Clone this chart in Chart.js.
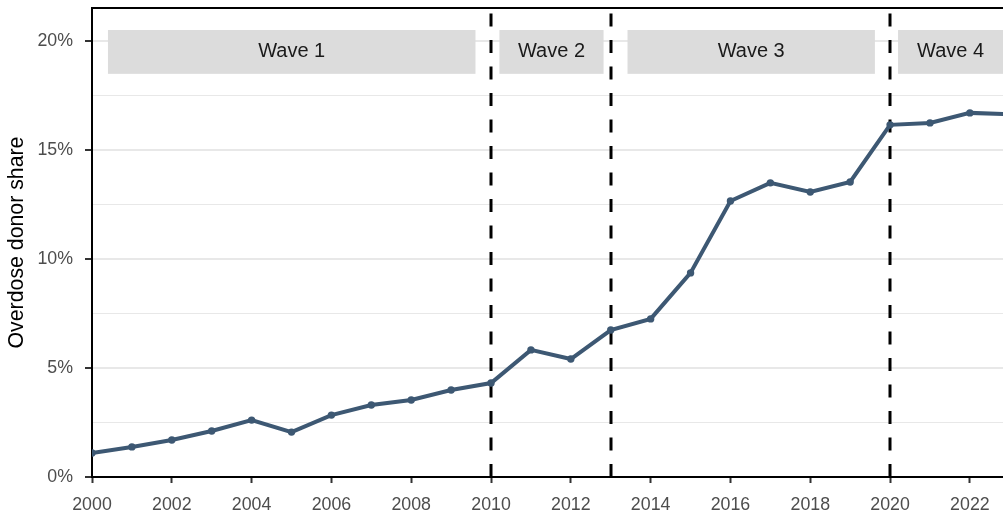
<!DOCTYPE html>
<html>
<head>
<meta charset="utf-8">
<script src="https://cdn.jsdelivr.net/npm/chart.js@4"></script>
<style>
  html, body { margin: 0; padding: 0; background: #fff; }
  canvas { display: block; }
</style>
</head>
<body>
<canvas id="overdoseChart" width="1003" height="514"></canvas>
<script>
// data
const years = [2000, 2001, 2002, 2003, 2004, 2005, 2006, 2007, 2008, 2009, 2010, 2011,
               2012, 2013, 2014, 2015, 2016, 2017, 2018, 2019, 2020, 2021, 2022, 2023];
const donorShare = [1.10, 1.38, 1.70, 2.11, 2.61, 2.06, 2.84, 3.30, 3.53, 3.99, 4.31, 5.83,
                    5.41, 6.74, 7.25, 9.36, 12.66, 13.49, 13.07, 13.53, 16.15, 16.24, 16.70, 16.64];
const xTickYears = [2000, 2002, 2004, 2006, 2008, 2010, 2012, 2014, 2016, 2018, 2020, 2022];
const yTickValues = [0, 2.5, 5, 7.5, 10, 12.5, 15, 17.5, 20];

// wave periods
const waveLabels = ['Wave 1', 'Wave 2', 'Wave 3', 'Wave 4'];
const waveStart = [2000.4, 2010.21, 2013.42, 2020.2];
const waveEnd = [2009.61, 2012.82, 2019.62, 2022.83];
const waveBreaks = [2010, 2013, 2020];

const FONT = "'Liberation Sans', Arial, sans-serif";
const isMajor = v => Math.abs(v % 5) < 1e-6;

/**
 * Draws the grey wave boxes and the dashed wave breaks behind the line.
 * */
const wavePlugin = {
  id: 'waves',
  beforeDatasetsDraw(chart) {
    const ctx = chart.ctx;
    const x = chart.scales.x;
    const y = chart.scales.y;
    const area = chart.chartArea;
    ctx.save();
    ctx.beginPath();
    ctx.rect(area.left, area.top, area.right - area.left, area.bottom - area.top);
    ctx.clip();

    // boxes with labels
    const top = y.getPixelForValue(20.5);
    const bottom = y.getPixelForValue(18.49);
    waveLabels.forEach((label, i) => {
      const x0 = x.getPixelForValue(waveStart[i]);
      const x1 = Math.min(x.getPixelForValue(waveEnd[i]), area.right);
      ctx.fillStyle = '#dcdcdc';
      ctx.fillRect(x0, top, x1 - x0, bottom - top);
      ctx.fillStyle = '#1a1a1a';
      ctx.font = '20px ' + FONT;
      ctx.textAlign = 'center';
      ctx.textBaseline = 'middle';
      ctx.fillText(label, (x0 + x1) / 2, (top + bottom) / 2);
    });

    // dashed breaks
    ctx.strokeStyle = '#000';
    ctx.lineWidth = 3;
    ctx.setLineDash([13, 13.5]);
    waveBreaks.forEach(b => {
      const px = Math.round(x.getPixelForValue(b));
      ctx.beginPath();
      ctx.moveTo(px, area.bottom);
      ctx.lineTo(px, area.top);
      ctx.stroke();
    });
    ctx.restore();
  },
  afterDraw(chart) {
    // top panel border
    const ctx = chart.ctx;
    const area = chart.chartArea;
    ctx.save();
    ctx.strokeStyle = '#000';
    ctx.lineWidth = 2;
    ctx.beginPath();
    ctx.moveTo(area.left - 1, area.top);
    ctx.lineTo(area.right, area.top);
    ctx.stroke();
    ctx.restore();
  }
};

const chartData = {
  type: 'line',
  data: {
    datasets: [
      {
        data: years.map((yr, i) => ({ x: yr, y: donorShare[i] })),
        borderColor: '#3d5873',
        backgroundColor: '#3d5873',
        borderWidth: 4,
        pointRadius: 3.7,
        pointBorderWidth: 0,
        tension: 0,
      }
    ]
  },
  options: {
    responsive: false,
    animation: false,
    layout: { autoPadding: false, padding: { top: 8, right: 0, left: 0, bottom: 0 } },
    plugins: {
      legend: { display: false },
      tooltip: { enabled: false },
    },
    scales: {
      x: {
        type: 'linear',
        min: 2000,
        max: 2022.83,
        afterBuildTicks: scale => { scale.ticks = xTickYears.map(v => ({ value: v })); },
        afterFit: scale => {
          scale.height = 37;
          scale.paddingLeft = 0;
          scale.paddingRight = 0;
        },
        ticks: {
          color: '#4d4d4d',
          font: { family: FONT, size: 17.8 },
          padding: 11,
          maxRotation: 0,
          callback: v => String(v),
        },
        grid: {
          drawOnChartArea: false,
          drawTicks: true,
          tickLength: 6,
          tickColor: '#333',
          tickWidth: 2,
        },
        border: { display: true, color: '#000', width: 2 },
      },
      y: {
        min: 0,
        max: 21.51,
        afterBuildTicks: scale => { scale.ticks = yTickValues.map(v => ({ value: v })); },
        afterFit: scale => {
          scale.width = 92;
          scale.paddingTop = 0;
          scale.paddingBottom = 0;
        },
        ticks: {
          color: '#4d4d4d',
          font: { family: FONT, size: 17.8 },
          padding: 12,
          callback: v => isMajor(v) ? v + '%' : '',
        },
        grid: {
          color: '#e8e8e8',
          lineWidth: c => isMajor(c.tick.value) ? 2 : 1,
          drawTicks: true,
          tickLength: 7,
          tickColor: c => isMajor(c.tick.value) ? '#333' : 'rgba(0,0,0,0)',
          tickWidth: 2,
        },
        border: { display: true, color: '#000', width: 2 },
        title: {
          display: true,
          text: 'Overdose donor share',
          color: '#000',
          font: { family: FONT, size: 21.3 },
          padding: { top: 4, bottom: 0 },
        },
      }
    }
  },
  plugins: [wavePlugin]
};

const overdoseChart = new Chart(document.getElementById('overdoseChart'), chartData);
</script>
</body>
</html>
